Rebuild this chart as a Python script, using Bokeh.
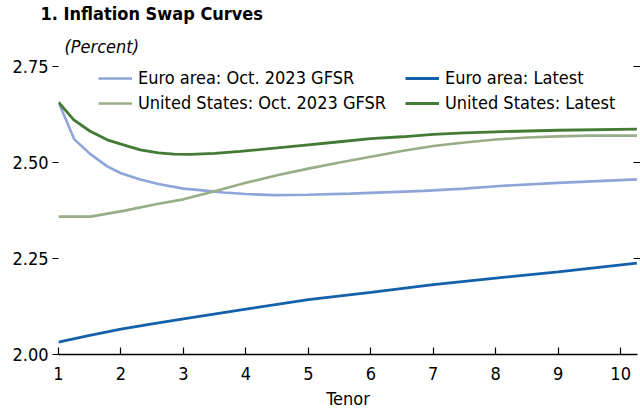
from bokeh.plotting import figure
from bokeh.models import (Legend, LegendItem, LinearAxis, FixedTicker, Title,
                          CustomJSTickFormatter, Range1d)
from bokeh.embed import file_html
from bokeh.resources import INLINE

# ---- data ----
euro_oct_x = [1.0, 1.25, 1.5, 1.78, 2.0, 2.31, 2.6, 3.0, 3.27, 3.64, 4.0, 4.44, 5.0,
              5.67, 6.0, 6.85, 7.5, 8.07, 9.0, 10.26]
euro_oct_y = [2.657, 2.561, 2.523, 2.490, 2.472, 2.456, 2.444, 2.432, 2.428, 2.422, 2.418,
              2.415, 2.416, 2.419, 2.421, 2.426, 2.432, 2.439, 2.447, 2.456]

us_oct_x = [1.0, 1.51, 2.04, 2.58, 3.0, 3.5, 4.0, 4.5, 5.0, 5.5, 6.0, 6.5, 7.0, 7.5, 8.0,
            8.5, 9.0, 9.5, 10.26]
us_oct_y = [2.359, 2.359, 2.374, 2.392, 2.404, 2.425, 2.447, 2.467, 2.484, 2.500, 2.515,
            2.530, 2.543, 2.552, 2.560, 2.565, 2.568, 2.570, 2.570]

euro_latest_x = [1.0, 1.5, 2.0, 2.5, 3.0, 4.0, 5.0, 6.0, 7.0, 8.0, 9.0, 10.26]
euro_latest_y = [2.032, 2.050, 2.066, 2.080, 2.093, 2.118, 2.143, 2.162, 2.182, 2.199,
                 2.215, 2.238]

us_latest_x = [1.0, 1.245, 1.5, 1.78, 2.0, 2.31, 2.6, 2.85, 3.11, 3.5, 3.91, 4.5, 5.0,
               5.5, 6.0, 6.5, 7.0, 7.5, 8.0, 9.0, 10.26]
us_latest_y = [2.657, 2.611, 2.582, 2.559, 2.548, 2.533, 2.525, 2.522, 2.521, 2.524,
               2.529, 2.538, 2.546, 2.554, 2.562, 2.567, 2.573, 2.577, 2.580, 2.584, 2.587]

x_ticks = [1, 2, 3, 4, 5, 6, 7, 8, 9, 10]
y_ticks = [2.00, 2.25, 2.50, 2.75]

labels = ["Euro area: Oct. 2023 GFSR", "United States: Oct. 2023 GFSR",
          "Euro area: Latest", "United States: Latest"]
colors = ["#8ea5d8", "#97ae87", "#1560ab", "#437a34"]

FONT = "'DejaVu Sans Condensed', 'Liberation Sans', sans-serif"

p = figure(width=640, height=411, output_backend="svg", toolbar_location=None,
           x_range=Range1d(1, 10.27), y_range=Range1d(2.0, 2.75),
           min_border_left=58, min_border_right=3, min_border_top=66, min_border_bottom=56)
p.outline_line_color = None
p.xgrid.visible = False
p.ygrid.visible = False
p.background_fill_color = "white"
p.border_fill_color = "white"

r1 = p.line(euro_oct_x, euro_oct_y, line_color=colors[0], line_width=2.6)
r2 = p.line(us_oct_x, us_oct_y, line_color=colors[1], line_width=2.6)
r3 = p.line(euro_latest_x, euro_latest_y, line_color=colors[2], line_width=2.8)
r4 = p.line(us_latest_x, us_latest_y, line_color=colors[3], line_width=2.8)

# x axis
xa = p.xaxis[0]
xa.ticker = FixedTicker(ticks=x_ticks)
xa.minor_tick_line_color = None
xa.major_tick_in = 7
xa.major_tick_out = 0
xa.axis_line_width = 1.5
xa.axis_line_color = "black"
xa.major_tick_line_color = "black"
xa.major_tick_line_width = 1.2
xa.major_label_text_font = FONT
xa.major_label_text_font_size = "18px"
xa.major_label_text_color = "black"
xa.major_label_standoff = 12
xa.axis_label = "Tenor"
xa.axis_label_text_font = FONT
xa.axis_label_text_font_size = "18px"
xa.axis_label_text_font_style = "normal"
xa.axis_label_text_color = "black"
xa.axis_label_standoff = 5

# y axis (left)
ya = p.yaxis[0]
ya.ticker = FixedTicker(ticks=y_ticks)
ya.formatter = CustomJSTickFormatter(code="return tick.toFixed(2);")
ya.minor_tick_line_color = None
ya.axis_line_color = None
ya.major_tick_in = 0
ya.major_tick_out = 6
ya.major_tick_line_color = "black"
ya.major_tick_line_width = 1.2
ya.major_label_text_font = FONT
ya.major_label_text_font_size = "18px"
ya.major_label_text_color = "black"
ya.major_label_standoff = 4

# right axis (ticks only)
ra = LinearAxis(ticker=FixedTicker(ticks=y_ticks[1:]),
                formatter=CustomJSTickFormatter(code="return '';"))
ra.axis_line_color = None
ra.minor_tick_line_color = None
ra.major_tick_in = 4
ra.major_tick_out = 3
ra.major_tick_line_color = "black"
ra.major_tick_line_width = 1.2
ra.major_label_text_font_size = "1px"
p.add_layout(ra, "right")

# legends (two columns)
common = dict(background_fill_alpha=0, border_line_color=None, padding=0, margin=0,
              spacing=4, glyph_width=34, glyph_height=20, label_height=20,
              label_standoff=6, label_text_font=FONT, label_text_font_size="18px",
              label_text_color="black")
leg1 = Legend(items=[LegendItem(label=labels[0], renderers=[r1]),
                     LegendItem(label=labels[1], renderers=[r2])],
              location=(40, 241), **common)
leg2 = Legend(items=[LegendItem(label=labels[2], renderers=[r3]),
                     LegendItem(label=labels[3], renderers=[r4])],
              location=(347, 241), **common)
p.add_layout(leg1)
p.add_layout(leg2)

# title and subtitle
p.title.text = "1. Inflation Swap Curves"
p.title.text_font = FONT
p.title.text_font_size = "18px"
p.title.text_font_style = "bold"
p.title.text_color = "black"
p.title.align = "left"
p.title.offset = -18
p.title.standoff = 0
sub = Title(text="(Percent)", text_font=FONT, text_font_size="18px",
            text_font_style="italic", text_color="black", align="left",
            offset=6, standoff=20)
p.add_layout(sub, "above")

open("out.html", "w").write(file_html(p, INLINE))
